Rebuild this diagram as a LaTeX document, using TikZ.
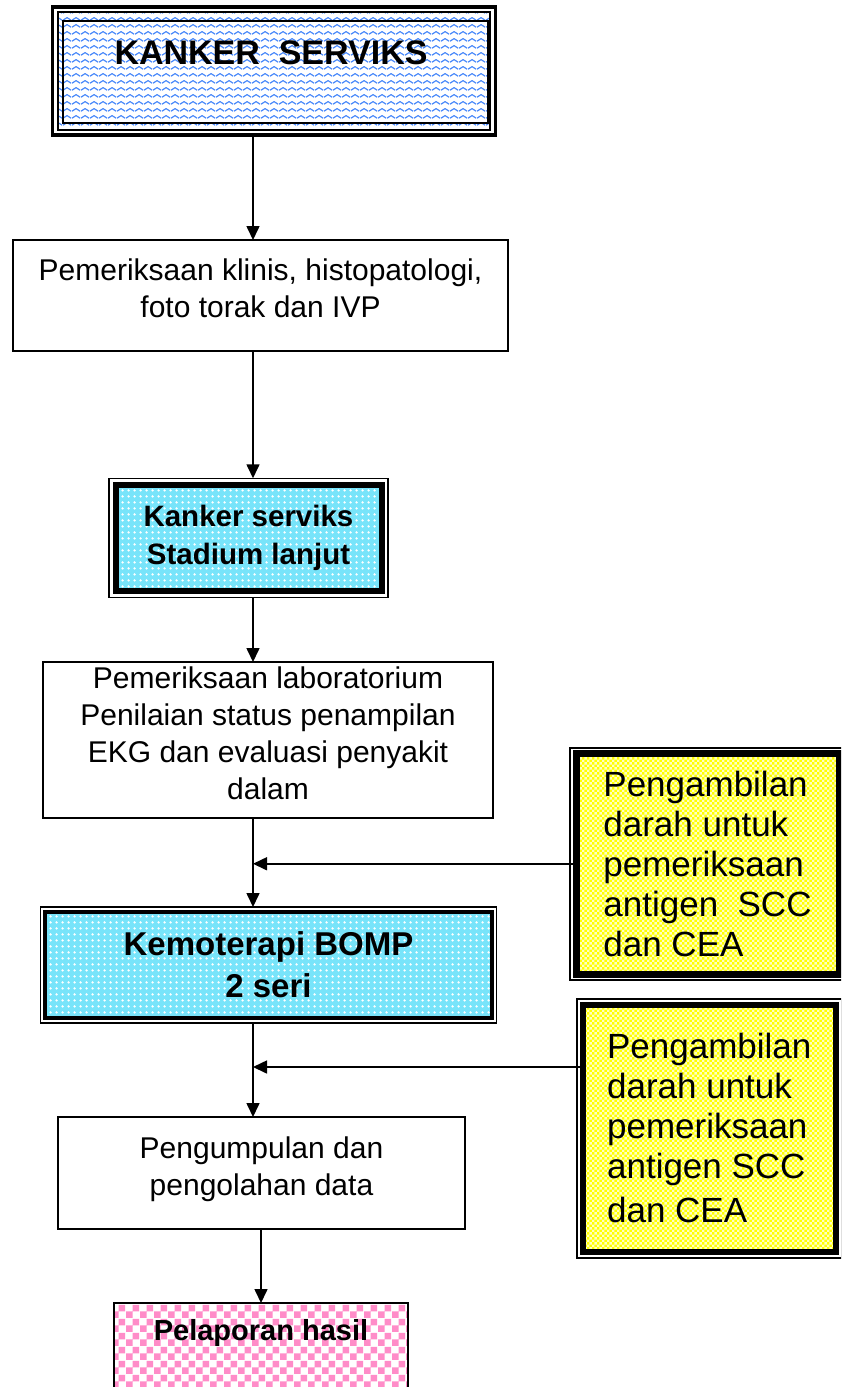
\documentclass[tikz,border=0pt]{standalone}
\usepackage{fontspec}
\setmainfont{Liberation Sans}
\usetikzlibrary{arrows.meta,patterns}

% fill patterns
\pgfdeclarepatternformonly{wavy}{\pgfqpoint{0pt}{0pt}}{\pgfqpoint{9pt}{7pt}}{\pgfqpoint{9pt}{7pt}}{%
  \pgfsetlinewidth{1.3pt}\pgfsetroundjoin
  \pgfpathmoveto{\pgfqpoint{0pt}{2pt}}%
  \pgfpathlineto{\pgfqpoint{4.5pt}{5pt}}%
  \pgfpathlineto{\pgfqpoint{9pt}{2pt}}%
  \pgfusepath{stroke}}
\pgfdeclarepatternformonly{diamonds}{\pgfqpoint{0pt}{0pt}}{\pgfqpoint{6pt}{6pt}}{\pgfqpoint{6pt}{6pt}}{%
  \pgfpathmoveto{\pgfqpoint{3pt}{1.5pt}}%
  \pgfpathlineto{\pgfqpoint{4.5pt}{3pt}}%
  \pgfpathlineto{\pgfqpoint{3pt}{4.5pt}}%
  \pgfpathlineto{\pgfqpoint{1.5pt}{3pt}}%
  \pgfpathclose\pgfusepath{fill}}
\pgfdeclarepatternformonly{finechecks}{\pgfqpoint{0pt}{0pt}}{\pgfqpoint{5.4pt}{5.4pt}}{\pgfqpoint{5.4pt}{5.4pt}}{%
  \pgfpathrectangle{\pgfqpoint{0pt}{0pt}}{\pgfqpoint{2.7pt}{2.7pt}}%
  \pgfpathrectangle{\pgfqpoint{2.7pt}{2.7pt}}{\pgfqpoint{2.7pt}{2.7pt}}%
  \pgfusepath{fill}}
\pgfdeclarepatternformonly{bigchecks}{\pgfqpoint{0pt}{0pt}}{\pgfqpoint{14pt}{14pt}}{\pgfqpoint{14pt}{14pt}}{%
  \pgfpathrectangle{\pgfqpoint{0pt}{0pt}}{\pgfqpoint{7pt}{7pt}}%
  \pgfpathrectangle{\pgfqpoint{7pt}{7pt}}{\pgfqpoint{7pt}{7pt}}%
  \pgfusepath{fill}}

\definecolor{wavecol}{RGB}{70,135,250}
\definecolor{cyanfill}{RGB}{120,228,250}
\definecolor{yellowfill}{RGB}{255,255,0}
\definecolor{paleyellow}{RGB}{255,255,190}
\definecolor{pinkcheck}{RGB}{255,140,200}

\tikzset{
  flow/.style={-{Triangle[length=14pt,width=13pt]}, line width=1.6pt},
  frame/.style={draw, inner sep=0pt, outer sep=0pt},
  plainbox/.style={frame, line width=1.6pt, align=center, text depth=14pt,
    font=\fontsize{30}{37}\selectfont},
  wavebox/.style={frame, line width=2pt, preaction={fill=white},
    pattern=wavy, pattern color=wavecol},
  cyanbox/.style={frame, preaction={fill=cyanfill}, pattern=diamonds,
    pattern color=white, align=center},
  yellowbox/.style={frame, preaction={fill=yellowfill}, pattern=finechecks,
    pattern color=paleyellow, align=left, font=\fontsize{35}{40}\selectfont},
  pinkbox/.style={frame, line width=1.6pt, preaction={fill=white},
    pattern=bigchecks, pattern color=pinkcheck},
}

\begin{document}
\begin{tikzpicture}[x=1pt,y=-1pt]
\useasboundingbox (0,0) rectangle (841,1387);
\clip (0,0) rectangle (841,1387);
\coordinate (spine) at (253,0);
\coordinate (tap2) at (253,1067);

% Title box
\node[wavebox, minimum width=432pt, minimum height=118pt] (kanker) at (274,71) {};
\node[frame, line width=3.5pt, minimum width=443pt, minimum height=128pt] (kankerframe) at (kanker.center) {};
\node[frame, line width=1.2pt, minimum width=425pt, minimum height=102pt] (kankerinner) at ([shift={(1.5pt,-1pt)}]kanker.center) {};
\node[font=\bfseries\fontsize{34}{40}\selectfont] (kankertxt) at (271,53) {KANKER\ \ SERVIKS};

% Examinations
\node[plainbox, minimum width=495pt, minimum height=111pt] (klinis) at (260.5,295.5)
  {Pemeriksaan klinis, histopatologi,\\ foto torak dan IVP};

\node[cyanbox, line width=6pt, minimum width=266pt, minimum height=106.5pt,
  font=\bfseries\fontsize{29.5}{38}\selectfont] (stadium) at (248.5,537.75)
  {Kanker serviks\\ Stadium lanjut};
\node[frame, line width=1.5pt, minimum width=279pt, minimum height=119pt] (stadiumframe) at (stadium.center) {};

\node[plainbox, minimum width=450pt, minimum height=156pt] (lab) at (268,740)
  {Pemeriksaan laboratorium\\ Penilaian status penampilan\\ EKG dan evaluasi penyakit\\ dalam};

% Therapy
\node[cyanbox, line width=4pt, minimum width=447pt, minimum height=106pt,
  font=\bfseries\fontsize{33}{42}\selectfont] (kemo) at (268.5,965)
  {Kemoterapi BOMP\\ 2 seri};
\node[frame, line width=1.5pt, minimum width=456pt, minimum height=116pt] (kemoframe) at (kemo.center) {};

\node[plainbox, minimum width=407pt, minimum height=112pt] (olah) at (261.5,1173)
  {Pengumpulan dan\\ pengolahan data};

\node[pinkbox, minimum width=294pt, minimum height=110pt, anchor=north] (hasil) at (261,1303) {};
\node[font=\bfseries\fontsize{29}{34}\selectfont] (hasiltxt) at (261,1333) {Pelaporan hasil};

% Blood samples
\node[yellowbox, line width=7pt, minimum width=263pt, minimum height=220.5pt] (sampel1) at (707.5,863.75)
  {Pengambilan\\ darah untuk\\ pemeriksaan\\ antigen\ \ SCC\\ dan CEA};
\node[frame, line width=1.5pt, minimum width=275pt, minimum height=232pt] (sampel1frame) at (sampel1.center) {};

\node[yellowbox, line width=6pt, minimum width=253.5pt, minimum height=246.5pt] (sampel2) at (709.25,1128.25)
  {Pengambilan\\ darah untuk\\ pemeriksaan\\ antigen SCC\\[4pt] dan CEA};
\node[frame, line width=1.5pt, minimum width=265pt, minimum height=259pt] (sampel2frame) at (sampel2.center) {};

% Arrows
\draw[flow] (kankerframe.south -| spine) -- (klinis.north -| spine);
\draw[flow] (klinis.south -| spine) -- (stadiumframe.north -| spine);
\draw[flow] (stadiumframe.south -| spine) -- (lab.north -| spine);
\draw[flow] (lab.south -| spine) -- (kemoframe.north -| spine);
\draw[flow] (sampel1.west) -- (sampel1.west -| spine);
\draw[flow] (kemoframe.south -| spine) -- (olah.north -| spine);
\draw[flow] (sampel2.west |- tap2) -- (tap2);
\draw[flow] (olah.south -| hasil) -- (hasil.north);
\end{tikzpicture}
\end{document}
